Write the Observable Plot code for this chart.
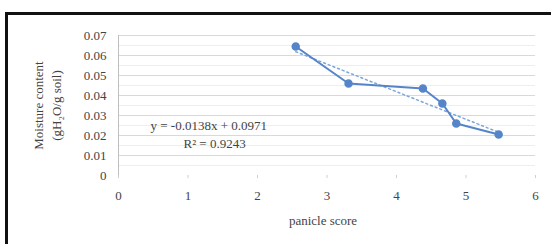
<!DOCTYPE html>
<html>
<head>
<meta charset="utf-8">
<script src="https://cdn.jsdelivr.net/npm/d3@7"></script>
<script src="https://cdn.jsdelivr.net/npm/@observablehq/plot@0.6"></script>
<style>
  html, body { margin: 0; padding: 0; background: #fff; overflow: hidden; }
  #wrap { position: relative; width: 551px; height: 244px; }
  #border { position: absolute; left: 5px; top: 12px; width: 560px; height: 260px; border: 3px solid #111; box-sizing: border-box; pointer-events: none; }
</style>
</head>
<body>
<div id="wrap"><div id="border"></div></div>
<script>
const scores = [2.55, 3.31, 4.38, 4.66, 4.86, 5.47];
const contents = [0.0645, 0.046, 0.0435, 0.036, 0.026, 0.0205];
const yTicks = [0, 0.01, 0.02, 0.03, 0.04, 0.05, 0.06, 0.07];
const yTickLabels = ["0", "0.01", "0.02", "0.03", "0.04", "0.05", "0.06", "0.07"];
const minorTicks = [0.005, 0.015, 0.025, 0.035, 0.045, 0.055, 0.065];
const xTicks = [0, 1, 2, 3, 4, 5, 6];
const slope = -0.0138, intercept = 0.0971;
const eqLines = ["y = -0.0138x + 0.0971", "R² = 0.9243"];
const yTitle = ["Moisture content", "(gH₂O/g soil)"];
const xTitle = "panicle score";

const data = scores.map((x, i) => ({x, y: contents[i]}));
const trend = [scores[0], scores[scores.length - 1]].map(x => ({x, y: slope * x + intercept}));
const font = "Liberation Serif, Times New Roman, serif";

const chart = Plot.plot({
  width: 551,
  height: 244,
  marginLeft: 118,
  marginRight: 16,
  marginTop: 35,
  marginBottom: 69,
  style: {fontFamily: font, fontSize: "13px", color: "#444", background: "transparent"},
  x: {domain: [0, 6]},
  y: {domain: [0, 0.07]},
  marks: [
    Plot.ruleY(minorTicks, {stroke: "#eeeeee", strokeWidth: 1}),
    Plot.ruleY(yTicks.slice(1), {stroke: "#d9d9d9", strokeWidth: 1}),
    Plot.ruleX([0], {stroke: "#bfbfbf", strokeWidth: 1}),
    Plot.axisY({ticks: yTicks, tickFormat: d => yTickLabels[yTicks.indexOf(d)], tickSize: 0, tickPadding: 12, label: null, fill: "#444", fontSize: 13}),
    Plot.axisX({ticks: xTicks, tickFormat: d => String(d), tickSize: 3, stroke: "#d0d0d0", tickPadding: 12, label: null, fill: "#444", fontSize: 13}),
    Plot.line(trend, {x: "x", y: "y", stroke: "#7aa7dc", strokeWidth: 1.5, strokeDasharray: "2,3"}),
    Plot.line(data, {x: "x", y: "y", stroke: "#5585c8", strokeWidth: 2}),
    Plot.dot(data, {x: "x", y: "y", r: 3.5, fill: "#5585c8", stroke: "#5585c8", symbol: "circle"}),
    Plot.text([eqLines[0]], {frameAnchor: "top-left", dx: 32, dy: 85, textAnchor: "start", fontSize: 13, fill: "#444"}),
    Plot.text([eqLines[1]], {frameAnchor: "top-left", dx: 65, dy: 103, textAnchor: "start", fontSize: 13, fill: "#444"}),
    Plot.text([yTitle[0]], {frameAnchor: "left", textAnchor: "middle", dx: -80, rotate: -90, fontSize: 13, fill: "#444"}),
    Plot.text([yTitle[1]], {frameAnchor: "left", textAnchor: "middle", dx: -62, rotate: -90, fontSize: 13, fill: "#444"}),
    Plot.text([xTitle], {frameAnchor: "bottom", dx: -4, dy: 49, fontSize: 13, fill: "#444"})
  ]
});
document.getElementById("wrap").appendChild(chart);
chart.style.position = "absolute";
chart.style.left = "0";
chart.style.top = "0";
</script>
</body>
</html>
